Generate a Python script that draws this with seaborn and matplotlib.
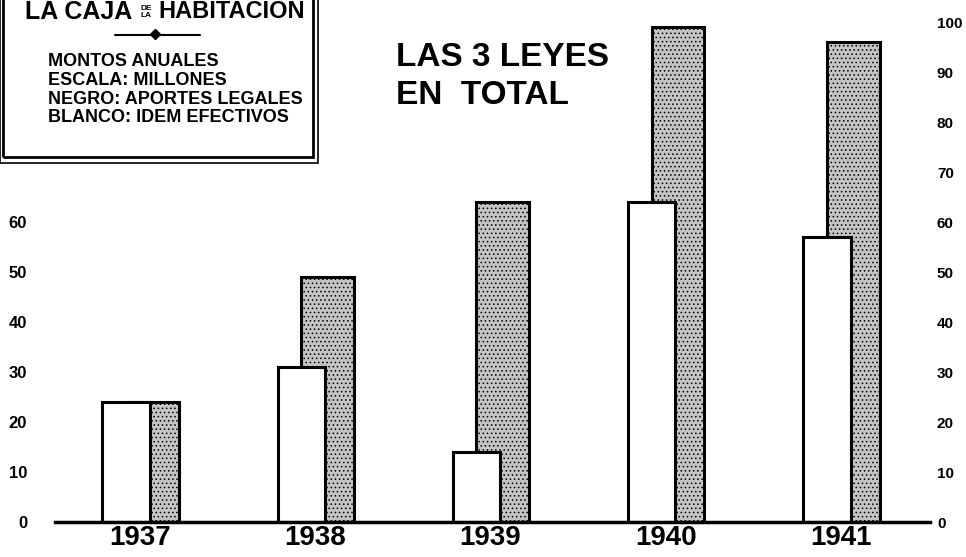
import numpy as np
import pandas as pd
import matplotlib
matplotlib.use('Agg')
import matplotlib.pyplot as plt
import seaborn as sns
from matplotlib.patches import Rectangle
from matplotlib.lines import Line2D

# Data (millones, montos anuales)
anios = [1937, 1938, 1939, 1940, 1941]
efectivos = [24, 31, 14, 64, 57]      # blanco: idem efectivos
legales = [24, 49, 64, 99, 96]        # negro: aportes legales
ticks_izq = [0, 10, 20, 30, 40, 50, 60]
ticks_der = [0, 10, 20, 30, 40, 50, 60, 70, 80, 90, 100]

sns.set_style('white')
plt.rcParams['font.family'] = ['Liberation Sans', 'DejaVu Sans']
plt.rcParams['font.weight'] = 'bold'
plt.rcParams['text.color'] = 'black'
plt.rcParams['xtick.color'] = 'black'
plt.rcParams['ytick.color'] = 'black'
plt.rcParams['hatch.linewidth'] = 0.6

df = pd.DataFrame({'anio': anios, 'efectivos': efectivos, 'legales': legales})

fig = plt.figure(figsize=(9.66, 5.57), dpi=100)
ax = fig.add_axes([55 / 966, 35 / 557, 875 / 966, 522 / 557])

# gray bars (legal), slightly shifted right, behind the white ones
sns.barplot(x=df['anio'] + 0.15, y=df['legales'], native_scale=True, width=0.3,
            color='#c4c4c4', edgecolor='black', linewidth=2.2, ax=ax)
sns.barplot(x=df['anio'], y=df['efectivos'], native_scale=True, width=0.27,
            color='white', edgecolor='black', linewidth=2.2, ax=ax)

# stipple on the gray bars
for p in ax.patches[:len(anios)]:
    p.set_hatch('....')

ax.set_xlim(1936.595, 1941.588)
ax.set_ylim(0, 104.4)
ax.set_xlabel('')
ax.set_ylabel('')
ax.set_xticks([a + 0.08 for a in anios])
ax.set_xticklabels([str(a) for a in anios], fontsize=20, fontweight='bold')
ax.set_yticks(ticks_izq)
ax.set_yticklabels([str(t) for t in ticks_izq], fontsize=12, fontweight='bold')
ax.tick_params(axis='y', length=0, pad=20)
ax.tick_params(axis='x', length=0, pad=2)
for s in ['left', 'right', 'top']:
    ax.spines[s].set_visible(False)
ax.spines['bottom'].set_linewidth(2.5)
ax.spines['bottom'].set_color('black')

ax2 = ax.twinx()
ax2.set_ylim(0, 104.4)
ax2.set_yticks(ticks_der)
ax2.set_yticklabels([str(t) for t in ticks_der], fontsize=11, fontweight='bold')
ax2.tick_params(axis='y', length=0, pad=5)
for s in ['left', 'right', 'top', 'bottom']:
    ax2.spines[s].set_visible(False)

# title box top-left
fig.add_artist(Rectangle((3 / 966, 1 - 157 / 557), 310 / 966, 0.4,
                         transform=fig.transFigure, fill=False, lw=2, ec='black'))
fig.add_artist(Rectangle((0 / 966, 1 - 163 / 557), 318 / 966, 0.4,
                         transform=fig.transFigure, fill=False, lw=1.2, ec='black'))
fig.text(25 / 966, 1 - 12 / 557, 'LA CAJA', fontsize=18, fontweight='bold', va='center', ha='left')
fig.text(146 / 966, 1 - 12 / 557, 'DE\nLA', fontsize=6, fontweight='bold', va='center',
         ha='center', linespacing=0.9)
fig.text(158 / 966, 1 - 12 / 557, 'HABITACION', fontsize=17, fontweight='bold', va='center', ha='left')
fig.add_artist(Line2D([115 / 966, 200 / 966], [1 - 35 / 557, 1 - 35 / 557],
                      transform=fig.transFigure, color='black', lw=1.5))
fig.add_artist(Line2D([155 / 966], [1 - 34 / 557], transform=fig.transFigure,
                      marker='D', markersize=5, color='black'))

lineas = ['MONTOS ANUALES', 'ESCALA: MILLONES', 'NEGRO: APORTES LEGALES', 'BLANCO: IDEM EFECTIVOS']
for i, t in enumerate(lineas):
    fig.text(48 / 966, 1 - (62 + 18.5 * i) / 557, t, fontsize=13, fontweight='bold',
             va='center', ha='left')

fig.text(396 / 966, 1 - 57 / 557, 'LAS 3 LEYES', fontsize=24, fontweight='bold', va='center', ha='left')
fig.text(396 / 966, 1 - 95 / 557, 'EN  TOTAL', fontsize=24, fontweight='bold', va='center', ha='left')

fig.savefig('out.png', dpi=100)
